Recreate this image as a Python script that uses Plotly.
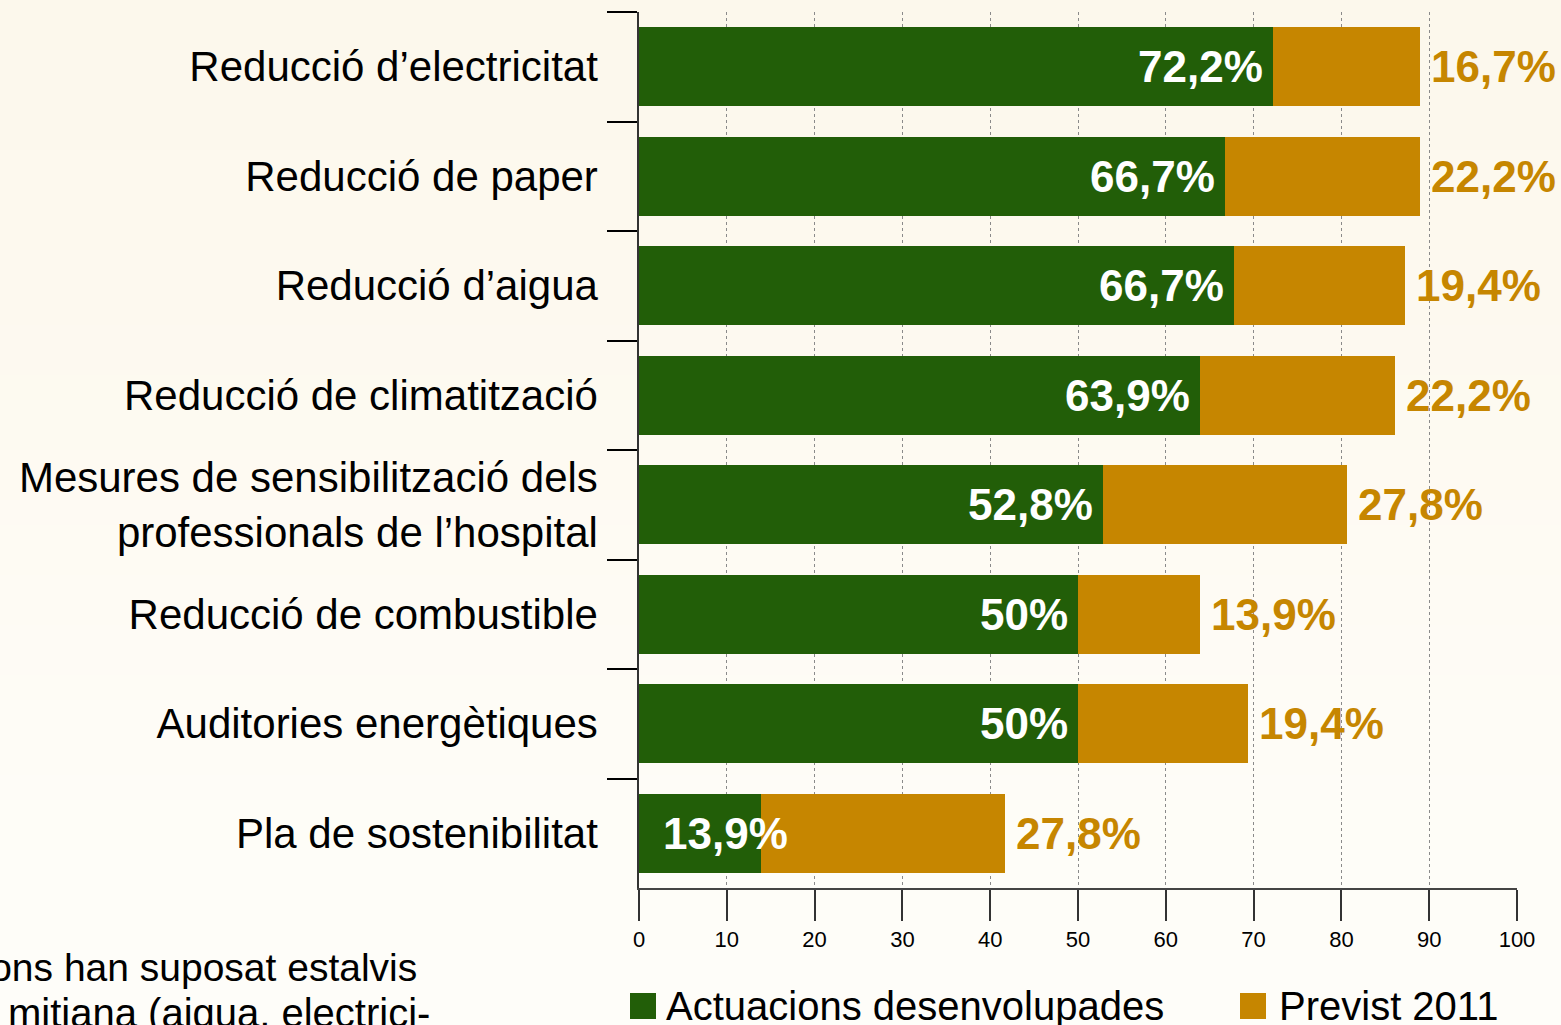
import plotly.graph_objects as go

categories = [
    "Reducció d’electricitat",
    "Reducció de paper",
    "Reducció d’aigua",
    "Reducció de climatització",
    "Mesures de sensibilització dels<br>professionals de l’hospital",
    "Reducció de combustible",
    "Auditories energètiques",
    "Pla de sostenibilitat",
]
desenvolupades = [72.2, 66.7, 67.8, 63.9, 52.8, 50.0, 50.0, 13.9]
previst = [16.7, 22.2, 19.4, 22.2, 27.8, 13.9, 19.4, 27.8]
label_desenv = ["72,2%", "66,7%", "66,7%", "63,9%", "52,8%", "50%", "50%", "13,9%"]
label_previst = ["16,7%", "22,2%", "19,4%", "22,2%", "27,8%", "13,9%", "19,4%", "27,8%"]
x_ticks = [0, 10, 20, 30, 40, 50, 60, 70, 80, 90, 100]

GREEN = "#225E08"
ORANGE = "#C68600"
FONT = "Liberation Sans, Arial, sans-serif"

W, H = 1561, 1025
ML, MR, MT, MB = 639, 44, 12, 137
plot_w = W - ML - MR
plot_h = H - MT - MB


def pxp(xpx):
    return (xpx - ML) / plot_w


def pyp(ypx):
    return (H - MB - ypx) / plot_h


fig = go.Figure()
fig.add_trace(go.Bar(y=categories, x=desenvolupades, orientation="h", marker=dict(color=GREEN, line=dict(width=0)),
                     name="Actuacions desenvolupades", width=0.72))
fig.add_trace(go.Bar(y=categories, x=previst, orientation="h", marker=dict(color=ORANGE, line=dict(width=0)),
                     name="Previst 2011", width=0.72))

LBL = 44
annotations = []
for cat, d, p, ld, lp in zip(categories, desenvolupades, previst, label_desenv, label_previst):
    if d < 20:
        annotations.append(dict(x=0, y=cat, xref="x", yref="y", text=ld, showarrow=False, xanchor="left",
                                xshift=22, font=dict(family=FONT, size=LBL, color="white", weight="bold")))
    else:
        annotations.append(dict(x=d, y=cat, xref="x", yref="y", text=ld, showarrow=False, xanchor="right",
                                xshift=-8, font=dict(family=FONT, size=LBL, color="white", weight="bold")))
    annotations.append(dict(x=d + p, y=cat, xref="x", yref="y", text=lp, showarrow=False, xanchor="left",
                            xshift=9, font=dict(family=FONT, size=LBL, color=ORANGE, weight="bold")))

shapes = []
# background vertical gradient
stops = [(0, (252, 248, 236)), (300, (253, 249, 239)), (600, (254, 251, 244)), (880, (254, 253, 248)),
         (1025, (254, 253, 249))]
nb = 41
for i in range(nb):
    y0 = i * H / nb
    y1 = (i + 1) * H / nb
    ym = (y0 + y1) / 2
    c = stops[-1][1]
    for j in range(len(stops) - 1):
        if stops[j][0] <= ym <= stops[j + 1][0]:
            t = (ym - stops[j][0]) / (stops[j + 1][0] - stops[j][0])
            c = tuple(round(stops[j][1][k] + t * (stops[j + 1][1][k] - stops[j][1][k])) for k in range(3))
            break
    shapes.append(dict(type="rect", xref="paper", yref="paper", x0=-1, x1=2,
                       y0=pyp(y1 + 0.5), y1=pyp(y0),
                       line=dict(width=0), fillcolor="rgb(%d,%d,%d)" % c, layer="below"))

# manual legend
shapes.append(dict(type="rect", xref="paper", yref="paper", x0=pxp(630), x1=pxp(656), y0=pyp(1019), y1=pyp(993),
                   fillcolor=GREEN, line=dict(width=0)))
shapes.append(dict(type="rect", xref="paper", yref="paper", x0=pxp(1240), x1=pxp(1266), y0=pyp(1019), y1=pyp(993),
                   fillcolor=ORANGE, line=dict(width=0)))
annotations.append(dict(x=pxp(664), y=pyp(1006), xref="paper", yref="paper", text="Actuacions desenvolupades",
                        showarrow=False, xanchor="left", yanchor="middle",
                        font=dict(family=FONT, size=40, color="black")))
annotations.append(dict(x=pxp(1277), y=pyp(1006), xref="paper", yref="paper", text="Previst 2011",
                        showarrow=False, xanchor="left", yanchor="middle",
                        font=dict(family=FONT, size=40, color="black")))
# surrounding body text (cut off in the reference)
annotations.append(dict(x=pxp(419), y=pyp(967), xref="paper", yref="paper", text="cions han suposat estalvis",
                        showarrow=False, xanchor="right", yanchor="middle",
                        font=dict(family=FONT, size=39, color="black")))
annotations.append(dict(x=pxp(432), y=pyp(1013), xref="paper", yref="paper", text="mitjana (aigua, electrici-",
                        showarrow=False, xanchor="right", yanchor="middle",
                        font=dict(family=FONT, size=40, color="black")))

fig.update_layout(
    width=W, height=H,
    barmode="stack",
    showlegend=False,
    margin=dict(l=ML, r=MR, t=MT, b=MB),
    paper_bgcolor="#FDF9EF",
    plot_bgcolor="rgba(0,0,0,0)",
    font=dict(family=FONT, color="black"),
    annotations=annotations,
    shapes=shapes,
    xaxis=dict(range=[0, 100], tickvals=x_ticks, ticks="outside", ticklen=31, tickcolor="#333", tickwidth=1.5,
               showgrid=True, gridcolor="#8a8a8a", griddash="dot", gridwidth=1,
               showline=True, linecolor="#444", linewidth=2, zeroline=False,
               tickfont=dict(size=22, family=FONT), layer="above traces", fixedrange=True),
    yaxis=dict(autorange="reversed", categoryorder="array", categoryarray=categories, ticks="outside",
               tickson="boundaries", ticklen=30, tickcolor="black", tickwidth=1.5,
               showline=True, linecolor="#333", linewidth=1.5, showgrid=False, zeroline=False,
               tickfont=dict(size=42, family=FONT), ticklabelstandoff=31, fixedrange=True),
)

fig.write_html(
    "out.html",
    config={"displayModeBar": False},
    post_script="document.body.style.margin='0';document.body.style.overflow='hidden';"
                "document.body.style.background='#FDF9EF';",
)
